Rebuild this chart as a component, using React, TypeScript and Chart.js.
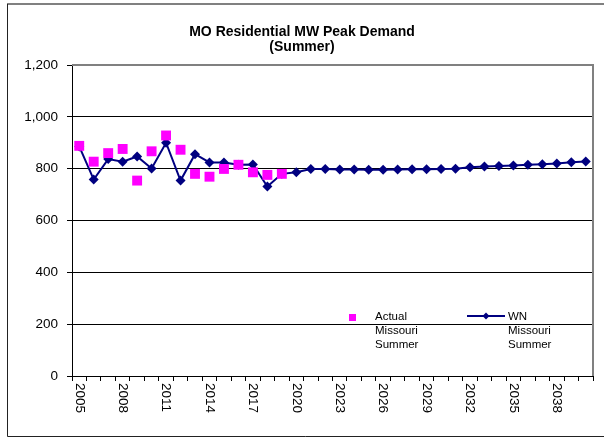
import { useEffect, useRef } from 'react';
import { Chart, registerables } from 'chart.js';

Chart.register(...registerables);

const years = [
  '2005', '2006', '2007', '2008', '2009', '2010', '2011', '2012', '2013', '2014',
  '2015', '2016', '2017', '2018', '2019', '2020', '2021', '2022', '2023', '2024',
  '2025', '2026', '2027', '2028', '2029', '2030', '2031', '2032', '2033', '2034',
  '2035', '2036', '2037', '2038', '2039', '2040',
];

const actualMissouriSummer: (number | null)[] = [
  888, 827, 860, 876, 754, 867, 928, 873, 780, 769,
  799, 815, 786, 776, 780, null, null, null, null, null,
  null, null, null, null, null, null, null, null, null, null,
  null, null, null, null, null, null,
];

const wnMissouriSummer: number[] = [
  886, 758, 837, 827, 847, 801, 900, 754, 856, 824,
  824, 815, 816, 731, 780, 786, 799, 799, 797, 797,
  796, 796, 797, 798, 798, 799, 800, 805, 808, 810,
  812, 815, 817, 820, 825, 828,
];

const yTickValues = [0, 200, 400, 600, 800, 1000, 1200];
const xLabelYears = ['2005', '2008', '2011', '2014', '2017', '2020', '2023', '2026', '2029', '2032', '2035', '2038'];

const FONT = '"Liberation Sans", Arial, sans-serif';

const decorPlugin = {
  id: 'decor',
  afterDraw(chart: any) {
    const { ctx, chartArea: ca, scales } = chart;
    ctx.save();
    // outer frame
    ctx.strokeStyle = '#808080';
    ctx.lineWidth = 2;
    ctx.beginPath();
    ctx.moveTo(7, 4);
    ctx.lineTo(604, 4);
    ctx.stroke();
    ctx.strokeStyle = '#222';
    ctx.lineWidth = 1;
    ctx.beginPath();
    ctx.moveTo(7.5, 4);
    ctx.lineTo(7.5, 436.5);
    ctx.lineTo(604, 436.5);
    ctx.stroke();

    // plot area top/right border
    ctx.strokeStyle = '#808080';
    ctx.lineWidth = 2;
    ctx.beginPath();
    ctx.moveTo(ca.left, ca.top);
    ctx.lineTo(ca.right, ca.top);
    ctx.lineTo(ca.right, ca.bottom);
    ctx.stroke();

    // title
    ctx.fillStyle = '#000';
    ctx.font = `bold 14px ${FONT}`;
    ctx.textAlign = 'center';
    ctx.textBaseline = 'middle';
    ctx.fillText('MO Residential MW Peak Demand', 302, 32);
    ctx.fillText('(Summer)', 302, 47);

    // x labels rotated clockwise
    const xs = scales.x;
    ctx.font = `13.5px ${FONT}`;
    ctx.textAlign = 'left';
    ctx.textBaseline = 'middle';
    xLabelYears.forEach((y) => {
      const i = years.indexOf(y);
      const px = xs.getPixelForValue(i);
      ctx.save();
      ctx.translate(px, ca.bottom + 7);
      ctx.rotate(Math.PI / 2);
      ctx.fillText(y, 0, 0);
      ctx.restore();
    });

    // legend
    ctx.font = `11.5px ${FONT}`;
    ctx.fillStyle = '#FF00FF';
    ctx.fillRect(349, 314, 7, 7);
    ctx.fillStyle = '#000';
    ctx.textAlign = 'left';
    ctx.textBaseline = 'middle';
    ctx.fillText('Actual', 375, 317);
    ctx.fillText('Missouri', 375, 331);
    ctx.fillText('Summer', 375, 345);

    ctx.strokeStyle = '#000080';
    ctx.lineWidth = 2;
    ctx.beginPath();
    ctx.moveTo(467, 316);
    ctx.lineTo(505, 316);
    ctx.stroke();
    ctx.fillStyle = '#000080';
    ctx.beginPath();
    ctx.moveTo(486, 312.5);
    ctx.lineTo(489.5, 316);
    ctx.lineTo(486, 319.5);
    ctx.lineTo(482.5, 316);
    ctx.closePath();
    ctx.fill();
    ctx.fillStyle = '#000';
    ctx.fillText('WN', 508, 317);
    ctx.fillText('Missouri', 508, 331);
    ctx.fillText('Summer', 508, 345);
    ctx.restore();
  },
};

export default function App() {
  const ref = useRef<HTMLCanvasElement | null>(null);

  useEffect(() => {
    if (!ref.current) return;
    const chart = new Chart(ref.current, {
      type: 'line',
      data: {
        labels: years,
        datasets: [
          {
            label: 'Actual Missouri Summer',
            data: actualMissouriSummer,
            showLine: false,
            pointStyle: 'rect',
            pointRadius: 7,
            pointBorderWidth: 0,
            pointBackgroundColor: '#FF00FF',
            borderColor: '#FF00FF',
            backgroundColor: '#FF00FF',
          },
          {
            label: 'WN Missouri Summer',
            data: wnMissouriSummer,
            borderColor: '#000080',
            borderWidth: 2,
            tension: 0,
            pointStyle: 'rectRot',
            pointRadius: 5,
            pointBorderWidth: 0,
            pointBackgroundColor: '#000080',
            backgroundColor: '#000080',
          },
        ],
      },
      options: {
        animation: false,
        responsive: false,
        maintainAspectRatio: false,
        layout: { padding: { left: 8, right: 11, top: 65, bottom: 12 } },
        plugins: {
          legend: { display: false },
          title: { display: false },
          tooltip: { enabled: false },
        },
        scales: {
          x: {
            type: 'category',
            offset: true,
            grid: {
              display: true,
              drawOnChartArea: false,
              drawTicks: true,
              tickLength: 5,
              tickColor: '#000',
              offset: true,
            },
            border: { color: '#000', width: 1 },
            ticks: {
              autoSkip: false,
              color: 'rgba(0,0,0,0)',
              maxRotation: 0,
              minRotation: 0,
              callback: () => '',
            },
            afterFit: (s: any) => {
              s.height = 50;
            },
          },
          y: {
            min: 0,
            max: 1200,
            afterBuildTicks: (s: any) => {
              s.ticks = yTickValues.map((v) => ({ value: v }));
            },
            ticks: {
              color: '#000',
              font: { family: FONT, size: 13.5 },
              padding: 9,
              callback: (v: any) => Number(v).toLocaleString('en-US'),
            },
            grid: {
              color: (c: any) => (c.tick && c.tick.value === 1200 ? 'rgba(0,0,0,0)' : '#000'),
              tickColor: '#000',
              tickLength: 5,
              lineWidth: 1,
            },
            border: { color: '#000', width: 1 },
            afterFit: (s: any) => {
              s.width = 64;
            },
          },
        },
      },
      plugins: [decorPlugin],
    });
    return () => chart.destroy();
  }, []);

  return (
    <div style={{ position: 'fixed', left: 0, top: 0, width: 604, height: 438, background: '#fff' }}>
      <canvas ref={ref} width={604} height={438} style={{ display: 'block', width: 604, height: 438 }} />
    </div>
  );
}
